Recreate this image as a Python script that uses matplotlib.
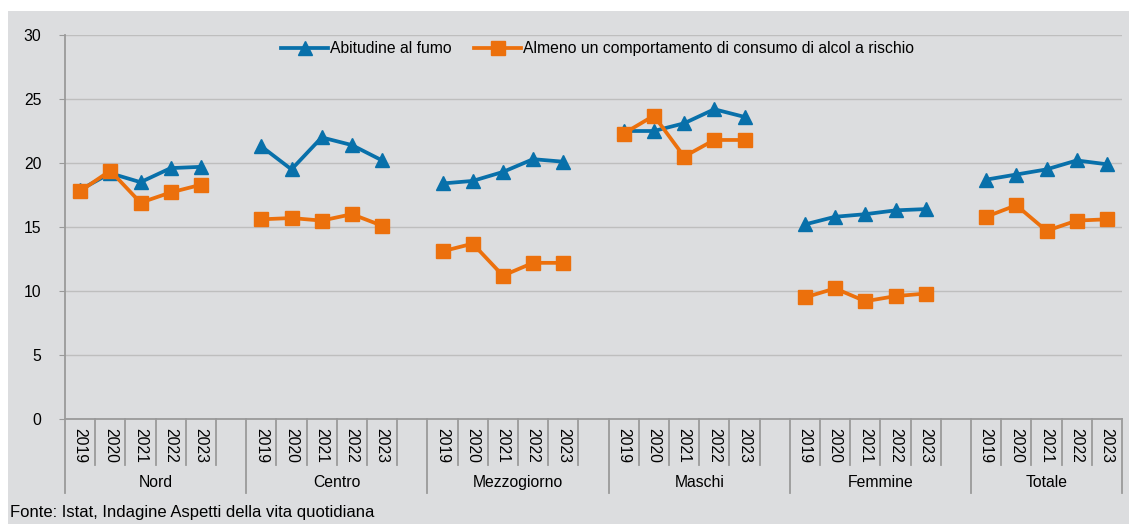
import numpy as np
import matplotlib.pyplot as plt
from matplotlib.lines import Line2D

plt.rcParams['font.family'] = ['Liberation Sans', 'DejaVu Sans']

gruppi = ['Nord', 'Centro', 'Mezzogiorno', 'Maschi', 'Femmine', 'Totale']
anni = ['2019', '2020', '2021', '2022', '2023']

# abitudine al fumo
fumo = [
    [17.9, 19.2, 18.5, 19.6, 19.7],
    [21.3, 19.5, 22.0, 21.4, 20.2],
    [18.4, 18.6, 19.3, 20.3, 20.1],
    [22.5, 22.5, 23.1, 24.2, 23.6],
    [15.2, 15.8, 16.0, 16.3, 16.4],
    [18.7, 19.1, 19.5, 20.2, 19.9],
]
# almeno un comportamento di consumo di alcol a rischio
alcol = [
    [17.8, 19.4, 16.9, 17.7, 18.3],
    [15.6, 15.7, 15.5, 16.0, 15.1],
    [13.1, 13.7, 11.2, 12.2, 12.2],
    [22.3, 23.7, 20.5, 21.8, 21.8],
    [9.5, 10.2, 9.2, 9.6, 9.8],
    [15.8, 16.7, 14.7, 15.5, 15.6],
]

blu = '#0870AA'
arancio = '#EC700C'
sfondo = '#DCDDDF'
assi = '#9A9A9A'
fs = 11.3

fig = plt.figure(figsize=(11.29, 5.24), dpi=100)
fig.patch.set_facecolor('white')
# fondo grigio del riquadro
fig.patches.append(plt.Rectangle((8 / 1129, 0), 1, 1 - 11 / 524, transform=fig.transFigure,
                                 facecolor=sfondo, edgecolor='none', zorder=-5))

ax = fig.add_axes([65 / 1129, 1 - 419 / 524, (1122 - 65) / 1129, (419 - 35) / 524])
ax.set_facecolor(sfondo)

n_slot = 6
n_tot = len(gruppi) * n_slot - 1
for g in range(len(gruppi)):
    x = np.arange(len(anni)) + g * n_slot
    ax.plot(x, fumo[g], color=blu, lw=2.7, marker='^', ms=10, zorder=3)
    ax.plot(x, alcol[g], color=arancio, lw=2.7, marker='s', ms=10.5, zorder=4)

ax.set_xlim(-0.5, n_tot - 0.5)
ax.set_ylim(0, 30)
ax.set_yticks(range(0, 31, 5))
ax.yaxis.grid(True, color='#BEBEBE', lw=1)
ax.set_axisbelow(True)
for s in ['top', 'right']:
    ax.spines[s].set_visible(False)
ax.spines['left'].set_color(assi)
ax.spines['bottom'].set_color(assi)
ax.spines['left'].set_linewidth(1.3)
ax.spines['bottom'].set_linewidth(1.3)
ax.tick_params(axis='y', length=4, color=assi, labelsize=fs, pad=13)
ax.set_xticks([])

# etichette anni e gruppi sotto l'asse
tr = ax.get_xaxis_transform()
px = 1 / 384  # un pixel in coordinate assi (altezza)
for g, nome in enumerate(gruppi):
    for j, a in enumerate(anni):
        ax.text(g * n_slot + j, -9 * px, a, transform=tr, rotation=270,
                ha='center', va='top', fontsize=fs, clip_on=False)
    ax.text(g * n_slot + 2.5 if g < len(gruppi) - 1 else g * n_slot + 2,
            -68 * px, nome, transform=tr, ha='center', va='baseline', fontsize=fs)
for k in range(n_tot + 1):
    pos = k - 0.5
    lungo = (k % n_slot == 0) or k == n_tot
    ax.add_line(Line2D([pos, pos], [0, (-74 if lungo else -46) * px], transform=tr,
                       color=assi, lw=1.3, clip_on=False))

handles = [Line2D([], [], color=blu, lw=2.7, marker='^', ms=10),
           Line2D([], [], color=arancio, lw=2.7, marker='s', ms=10.5)]
ax.legend(handles, ['Abitudine al fumo', 'Almeno un comportamento di consumo di alcol a rischio'],
          loc='upper center', bbox_to_anchor=(0.504, 1.02), ncol=2, frameon=False,
          fontsize=fs, handlelength=3, columnspacing=1.4, handletextpad=0.15)

fig.text(10 / 1129, 1 - 512 / 524, 'Fonte: Istat, Indagine Aspetti della vita quotidiana',
         fontsize=12, va='center', ha='left')

fig.savefig('out.png', dpi=100, facecolor=fig.get_facecolor())
